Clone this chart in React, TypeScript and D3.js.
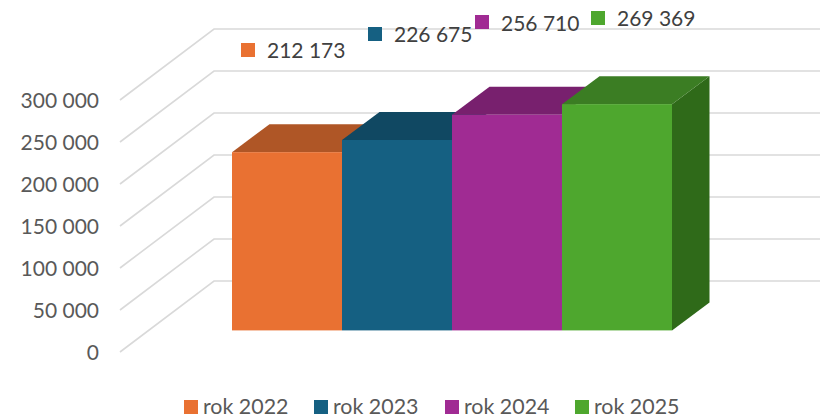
import React from "react";
import * as d3 from "d3";

const years = ["rok 2022", "rok 2023", "rok 2024", "rok 2025"];
const values = [212173, 226675, 256710, 269369];
const valueLabels = ["212 173", "226 675", "256 710", "269 369"];
const colors = ["#E97132", "#156082", "#A02B93", "#4EA72E"];
const topColors = ["#AF5626", "#104862", "#78206E", "#3B7D23"];
const sideColor = "#2F6A19";
const ticks = [0, 50000, 100000, 150000, 200000, 250000, 300000];
const tickLabels = ["0", "50 000", "100 000", "150 000", "200 000", "250 000", "300 000"];

// layout of the manually placed data labels and the legend
const labelKeyX = [241, 368, 475, 591];
const labelKeyY = [43, 27, 15, 11];
const labelBaseY = [58, 42, 31, 26];
const legendKeyX = [184, 314, 445, 575];

const FONT = "Lato, Carlito, sans-serif";

export default function App() {
  const W = 823;
  const H = 417;
  // wall grid: front-edge scale
  const gridY = d3.scaleLinear().domain([0, 300000]).range([352, 100]);
  // bar front faces
  const barY = d3.scaleLinear().domain([0, 300000]).range([330.4, 78.4]);
  const barX = d3.scaleBand<number>().domain(d3.range(years.length)).range([232, 672]).padding(0);
  const wallDx = 94;
  const wallDy = -71;
  const gridRight = 820;
  const depthX = 37.5;
  const depthY = -28;
  const bw = barX.bandwidth();

  return (
    <svg
      width={W}
      height={H}
      viewBox={`0 0 ${W} ${H}`}
      style={{ position: "absolute", left: 0, top: 0, background: "#fff", overflow: "visible" }}
      fontFamily={FONT}
    >
      <g fill="none" stroke="#D9D9D9" strokeWidth={1.6}>
        {ticks.map((t) => {
          const y = gridY(t);
          return (
            <path
              key={t}
              d={d3.line()([
                [120, y],
                [120 + wallDx, y + wallDy],
                [gridRight, y + wallDy],
              ]) as string}
            />
          );
        })}
      </g>

      {tickLabels.map((s, i) => (
        <text key={s} x={99} y={gridY(ticks[i]) + 7.5} textAnchor="end" fontSize={21} fill="#595959">
          {s}
        </text>
      ))}

      {/* side of the last bar */}
      {(() => {
        const i = values.length - 1;
        const x1 = (barX(i) as number) + bw;
        const y0 = barY(0);
        const yT = barY(values[i]);
        return (
          <polygon
            points={`${x1},${y0} ${x1 + depthX},${y0 + depthY} ${x1 + depthX},${yT + depthY} ${x1},${yT}`}
            fill={sideColor}
          />
        );
      })()}

      {values.map((v, i) => {
        const x0 = barX(i) as number;
        const yT = barY(v);
        return (
          <polygon
            key={`top-${i}`}
            points={`${x0},${yT} ${x0 + depthX},${yT + depthY} ${x0 + bw + depthX},${yT + depthY} ${x0 + bw},${yT}`}
            fill={topColors[i]}
          />
        );
      })}
      {values.map((v, i) => {
        const x0 = barX(i) as number;
        const yT = barY(v);
        return <rect key={`front-${i}`} x={x0} y={yT} width={bw} height={barY(0) - yT} fill={colors[i]} />;
      })}

      {valueLabels.map((s, i) => (
        <g key={s}>
          <rect x={labelKeyX[i]} y={labelKeyY[i]} width={14} height={14} fill={colors[i]} />
          <text x={labelKeyX[i] + 26} y={labelBaseY[i]} fontSize={21} fill="#404040">
            {s}
          </text>
        </g>
      ))}

      {years.map((s, i) => (
        <g key={s}>
          <rect x={legendKeyX[i]} y={400} width={14} height={14} fill={colors[i]} />
          <text x={legendKeyX[i] + 19} y={414} fontSize={21.4} fill="#595959">
            {s}
          </text>
        </g>
      ))}
    </svg>
  );
}
